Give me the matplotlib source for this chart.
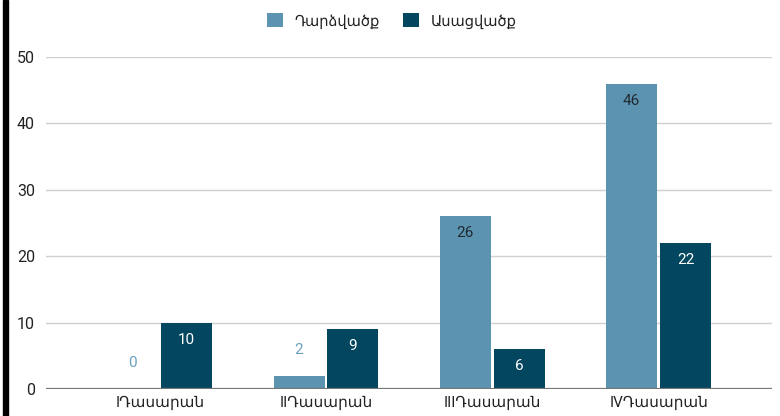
import matplotlib
matplotlib.use("Agg")
import matplotlib.pyplot as plt
import numpy as np

categories = ["IԴասարան", "IIԴասարան", "IIIԴասարան", "IVԴասարան"]
series_names = ["Դարձվածք", "Ասացվածք"]
values_light = [0, 2, 26, 46]
values_dark = [10, 9, 6, 22]
yticks = [0, 10, 20, 30, 40, 50]

c_light = "#5b93b1"
c_dark = "#02465f"
fam = ["Roboto", "Noto Sans", "DejaVu Sans"]
plt.rcParams["font.family"] = fam

W, H = 780, 416
fig = plt.figure(figsize=(W / 100, H / 100), dpi=100)
ax = fig.add_axes([46 / W, (H - 389) / H, (772 - 46) / W, (389 - 57) / H])

x = np.arange(len(categories))
bw = 0.307
off = 0.162
b1 = ax.bar(x - off, values_light, bw, color=c_light, zorder=3, label=series_names[0])
b2 = ax.bar(x + off, values_dark, bw, color=c_dark, zorder=3, label=series_names[1])

ax.set_xlim(-0.684, 3.682)
ax.set_ylim(0, 50)
ax.set_yticks(yticks)
ax.set_yticklabels([str(t) for t in yticks], fontsize=11.5, color="#222222")
ax.set_xticks(x)
ax.set_xticklabels(categories, fontsize=11, color="#222222")
ax.tick_params(axis="both", length=0)
ax.tick_params(axis="y", pad=8)
ax.tick_params(axis="x", pad=5)
for s in ax.spines.values():
    s.set_visible(False)
ax.grid(axis="y", color="#d0d0d0", linewidth=1, zorder=0)
ax.axhline(0, color="#777777", linewidth=1.6, zorder=4)


def label(bars, vals, inside_color, outside_color):
    for b, v in zip(bars, vals):
        cx = b.get_x() + b.get_width() / 2
        if v >= 4:
            ax.annotate(str(v), (cx, v), xytext=(0, -17), textcoords="offset pixels",
                        ha="center", va="center", fontsize=11, color=inside_color, zorder=5)
        else:
            ax.annotate(str(v), (cx, v), xytext=(0, 26), textcoords="offset pixels",
                        ha="center", va="center", fontsize=11, color=outside_color, zorder=5)


label(b1, values_light, "#1f2a30", "#6aa0bd")
label(b2, values_dark, "#ffffff", "#6aa0bd")

leg = fig.legend(handles=[b1, b2], labels=series_names, loc="center", bbox_to_anchor=(392 / W, 1 - 21 / H),
                 ncol=2, frameon=False, fontsize=10.5, handlelength=1.1, handleheight=1.1,
                 columnspacing=1.6, handletextpad=0.8)
for t in leg.get_texts():
    t.set_color("#222222")

# black border at left
fig.add_artist(plt.Rectangle((3 / W, 0), 5 / W, 1, transform=fig.transFigure, color="black"))

fig.savefig("out.png", dpi=100)
